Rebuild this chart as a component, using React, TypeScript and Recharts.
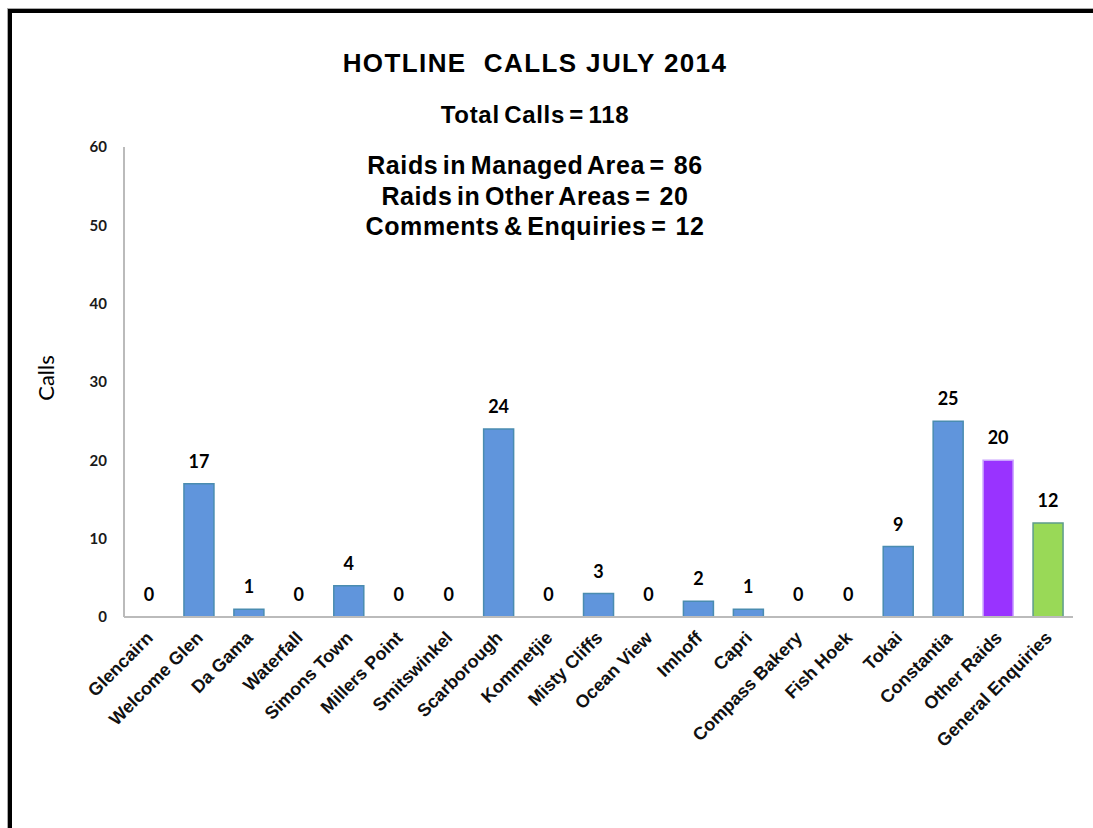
import { ComposedChart, Bar, Line, XAxis, YAxis, Cell, LabelList } from "recharts";

const areas = [
  "Glencairn",
  "Welcome Glen",
  "Da Gama",
  "Waterfall",
  "Simons Town",
  "Millers Point",
  "Smitswinkel",
  "Scarborough",
  "Kommetjie",
  "Misty Cliffs",
  "Ocean View",
  "Imhoff",
  "Capri",
  "Compass Bakery",
  "Fish Hoek",
  "Tokai",
  "Constantia",
  "Other Raids",
  "General Enquiries",
];

const calls = [0, 17, 1, 0, 4, 0, 0, 24, 0, 3, 0, 2, 1, 0, 0, 9, 25, 20, 12];

const yTicks = [0, 10, 20, 30, 40, 50, 60];

const summaryLines = [
  "Raids in Managed Area =  86",
  "Raids in Other Areas =  20",
  "Comments & Enquiries =  12",
];

const data = areas.map((name, i) => ({ name, calls: calls[i] }));

const fillFor = (name: string) =>
  name === "Other Raids" ? "#9933FF" : name === "General Enquiries" ? "#99D957" : "#6095DC";
const strokeFor = (name: string) =>
  name === "Other Raids" ? "#C9A2FF" : name === "General Enquiries" ? "#5E9C8C" : "#4A8CB0";

const XTick = ({ x, y, payload }: any) => (
  <text
    x={x + 5}
    y={y + 14}
    transform={`rotate(-45, ${x + 5}, ${y + 14})`}
    textAnchor="end"
    fontFamily="Liberation Sans, Arial, sans-serif"
    fontWeight="bold"
    fontSize={18}
    fill="#111"
  >
    {payload.value}
  </text>
);

const App = () => {
  return (
    <div style={{ position: "fixed", inset: 0, overflow: "hidden", background: "#fff" }}>
      <div
        style={{
          position: "absolute",
          left: 8,
          top: 9,
          width: 1300,
          height: 1000,
          border: "4px solid #000",
          boxShadow: "0 0 0 1px #aaa",
        }}
      />
      <div
        style={{
          position: "absolute",
          left: 235,
          width: 600,
          textAlign: "center",
          fontFamily: "Liberation Sans, Arial, sans-serif",
          fontWeight: "bold",
          color: "#000",
        }}
      >
        <div style={{ position: "absolute", top: 48, width: 600, fontSize: 26, letterSpacing: 1.4, whiteSpace: "pre" }}>
          {"HOTLINE  CALLS JULY 2014"}
        </div>
        <div style={{ position: "absolute", top: 101, width: 600, fontSize: 24, letterSpacing: 0.7, wordSpacing: -3 }}>
          Total Calls = 118
        </div>
        <div style={{ position: "absolute", top: 150, width: 600, fontSize: 25, lineHeight: "30.5px", letterSpacing: 0.6, wordSpacing: -3 }}>
          {summaryLines.map((l) => (
            <div key={l} style={{ whiteSpace: "pre" }}>
              {l}
            </div>
          ))}
        </div>
      </div>
      <div
        style={{
          position: "absolute",
          left: 45,
          top: 378,
          transform: "translate(-50%, -50%) rotate(-90deg)",
          fontFamily: "Lato, sans-serif",
          fontSize: 22,
          color: "#000",
        }}
      >
        Calls
      </div>
      <div style={{ position: "absolute", left: 0, top: 0 }}>
        <ComposedChart
          width={1093}
          height={828}
          data={data}
          margin={{ top: 147, right: 20, bottom: 61, left: 84 }}
          barSize={30}
        >
          <XAxis
            dataKey="name"
            interval={0}
            height={150}
            tick={<XTick />}
            tickLine={false}
            axisLine={{ stroke: "#BBBBBB", strokeWidth: 2 }}
          />
          <YAxis
            width={40}
            domain={[0, 60]}
            ticks={yTicks}
            tickLine={false}
            tickSize={6}
            tickMargin={11}
            axisLine={{ stroke: "#BBBBBB", strokeWidth: 2 }}
            tick={{ fontFamily: "Lato, sans-serif", fontWeight: "bold", fontSize: 15, fill: "#1a1a1a" }}
          />
          <Bar dataKey="calls" isAnimationActive={false} strokeWidth={1.5}>
            {data.map((d) => (
              <Cell key={d.name} fill={fillFor(d.name)} stroke={strokeFor(d.name)} />
            ))}
          </Bar>
          <Line
            dataKey="calls"
            stroke="none"
            dot={false}
            activeDot={false}
            legendType="none"
            isAnimationActive={false}
          >
            <LabelList
              dataKey="calls"
              position="top"
              offset={16}
              style={{ fontFamily: "Lato, sans-serif", fontWeight: "bold", fontSize: 18, fill: "#000" }}
            />
          </Line>
        </ComposedChart>
      </div>
    </div>
  );
};

export default App;
